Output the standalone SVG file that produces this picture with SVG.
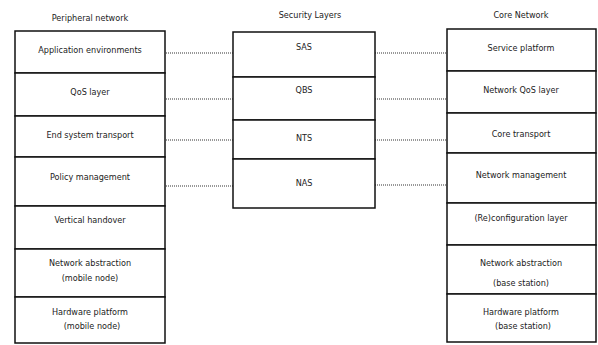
<svg xmlns="http://www.w3.org/2000/svg" width="598" height="345" viewBox="0 0 598 345">
<style>
.box{fill:#fff;stroke:#111;stroke-width:1.5}
text{font-family:"DejaVu Sans Condensed","DejaVu Sans",sans-serif;font-stretch:condensed;font-size:9px;fill:#222;text-anchor:middle}
.link{stroke:#333;stroke-width:1.2;stroke-dasharray:1,1;fill:none}
</style>
<rect width="598" height="345" fill="#fff"/>
<g id="titles">
<text x="90" y="21">Peripheral network</text>
<text x="310" y="18">Security Layers</text>
<text x="521" y="18">Core Network</text>
</g>
<g id="connectors">
<line class="link" x1="166" y1="53" x2="233" y2="53"/>
<line class="link" x1="166" y1="99" x2="233" y2="99"/>
<line class="link" x1="166" y1="140" x2="233" y2="140"/>
<line class="link" x1="166" y1="186" x2="233" y2="186"/>
<line class="link" x1="375" y1="53" x2="447" y2="53"/>
<line class="link" x1="375" y1="99" x2="447" y2="99"/>
<line class="link" x1="375" y1="140" x2="447" y2="140"/>
<line class="link" x1="375" y1="185" x2="447" y2="185"/>
</g>
<g id="p-app"><rect class="box" x="15" y="31" width="150" height="42"/><text x="90" y="53">Application environments</text></g>
<g id="p-qos"><rect class="box" x="15" y="73" width="150" height="43"/><text x="90" y="95">QoS layer</text></g>
<g id="p-est"><rect class="box" x="15" y="116" width="150" height="41"/><text x="90" y="138">End system transport</text></g>
<g id="p-pol"><rect class="box" x="15" y="157" width="150" height="49"/><text x="90" y="180">Policy management</text></g>
<g id="p-vh"><rect class="box" x="15" y="206" width="150" height="43"/><text x="90" y="223">Vertical handover</text></g>
<g id="p-na"><rect class="box" x="15" y="249" width="150" height="48"/><text x="90" y="266">Network abstraction</text><text x="90" y="281">(mobile node)</text></g>
<g id="p-hw"><rect class="box" x="15" y="297" width="150" height="46"/><text x="90" y="315">Hardware platform</text><text x="92" y="329">(mobile node)</text></g>
<g id="s-sas"><rect class="box" x="233" y="32" width="142" height="45"/><text x="304" y="50">SAS</text></g>
<g id="s-qbs"><rect class="box" x="233" y="77" width="142" height="43"/><text x="304" y="93">QBS</text></g>
<g id="s-nts"><rect class="box" x="233" y="120" width="142" height="39"/><text x="304" y="141">NTS</text></g>
<g id="s-nas"><rect class="box" x="233" y="159" width="142" height="49"/><text x="304" y="186">NAS</text></g>
<g id="c-sp"><rect class="box" x="447" y="29" width="149" height="42"/><text x="521" y="51">Service platform</text></g>
<g id="c-qos"><rect class="box" x="447" y="71" width="149" height="42"/><text x="521" y="93">Network QoS layer</text></g>
<g id="c-ct"><rect class="box" x="447" y="113" width="149" height="40"/><text x="521" y="137">Core transport</text></g>
<g id="c-nm"><rect class="box" x="447" y="153" width="149" height="50"/><text x="521" y="178">Network management</text></g>
<g id="c-rc"><rect class="box" x="447" y="203" width="149" height="42"/><text x="521" y="221">(Re)configuration layer</text></g>
<g id="c-na"><rect class="box" x="447" y="245" width="149" height="49"/><text x="521" y="266">Network abstraction</text><text x="521" y="286">(base station)</text></g>
<g id="c-hw"><rect class="box" x="447" y="294" width="149" height="48"/><text x="521" y="315">Hardware platform</text><text x="523" y="329">(base station)</text></g>
</svg>
